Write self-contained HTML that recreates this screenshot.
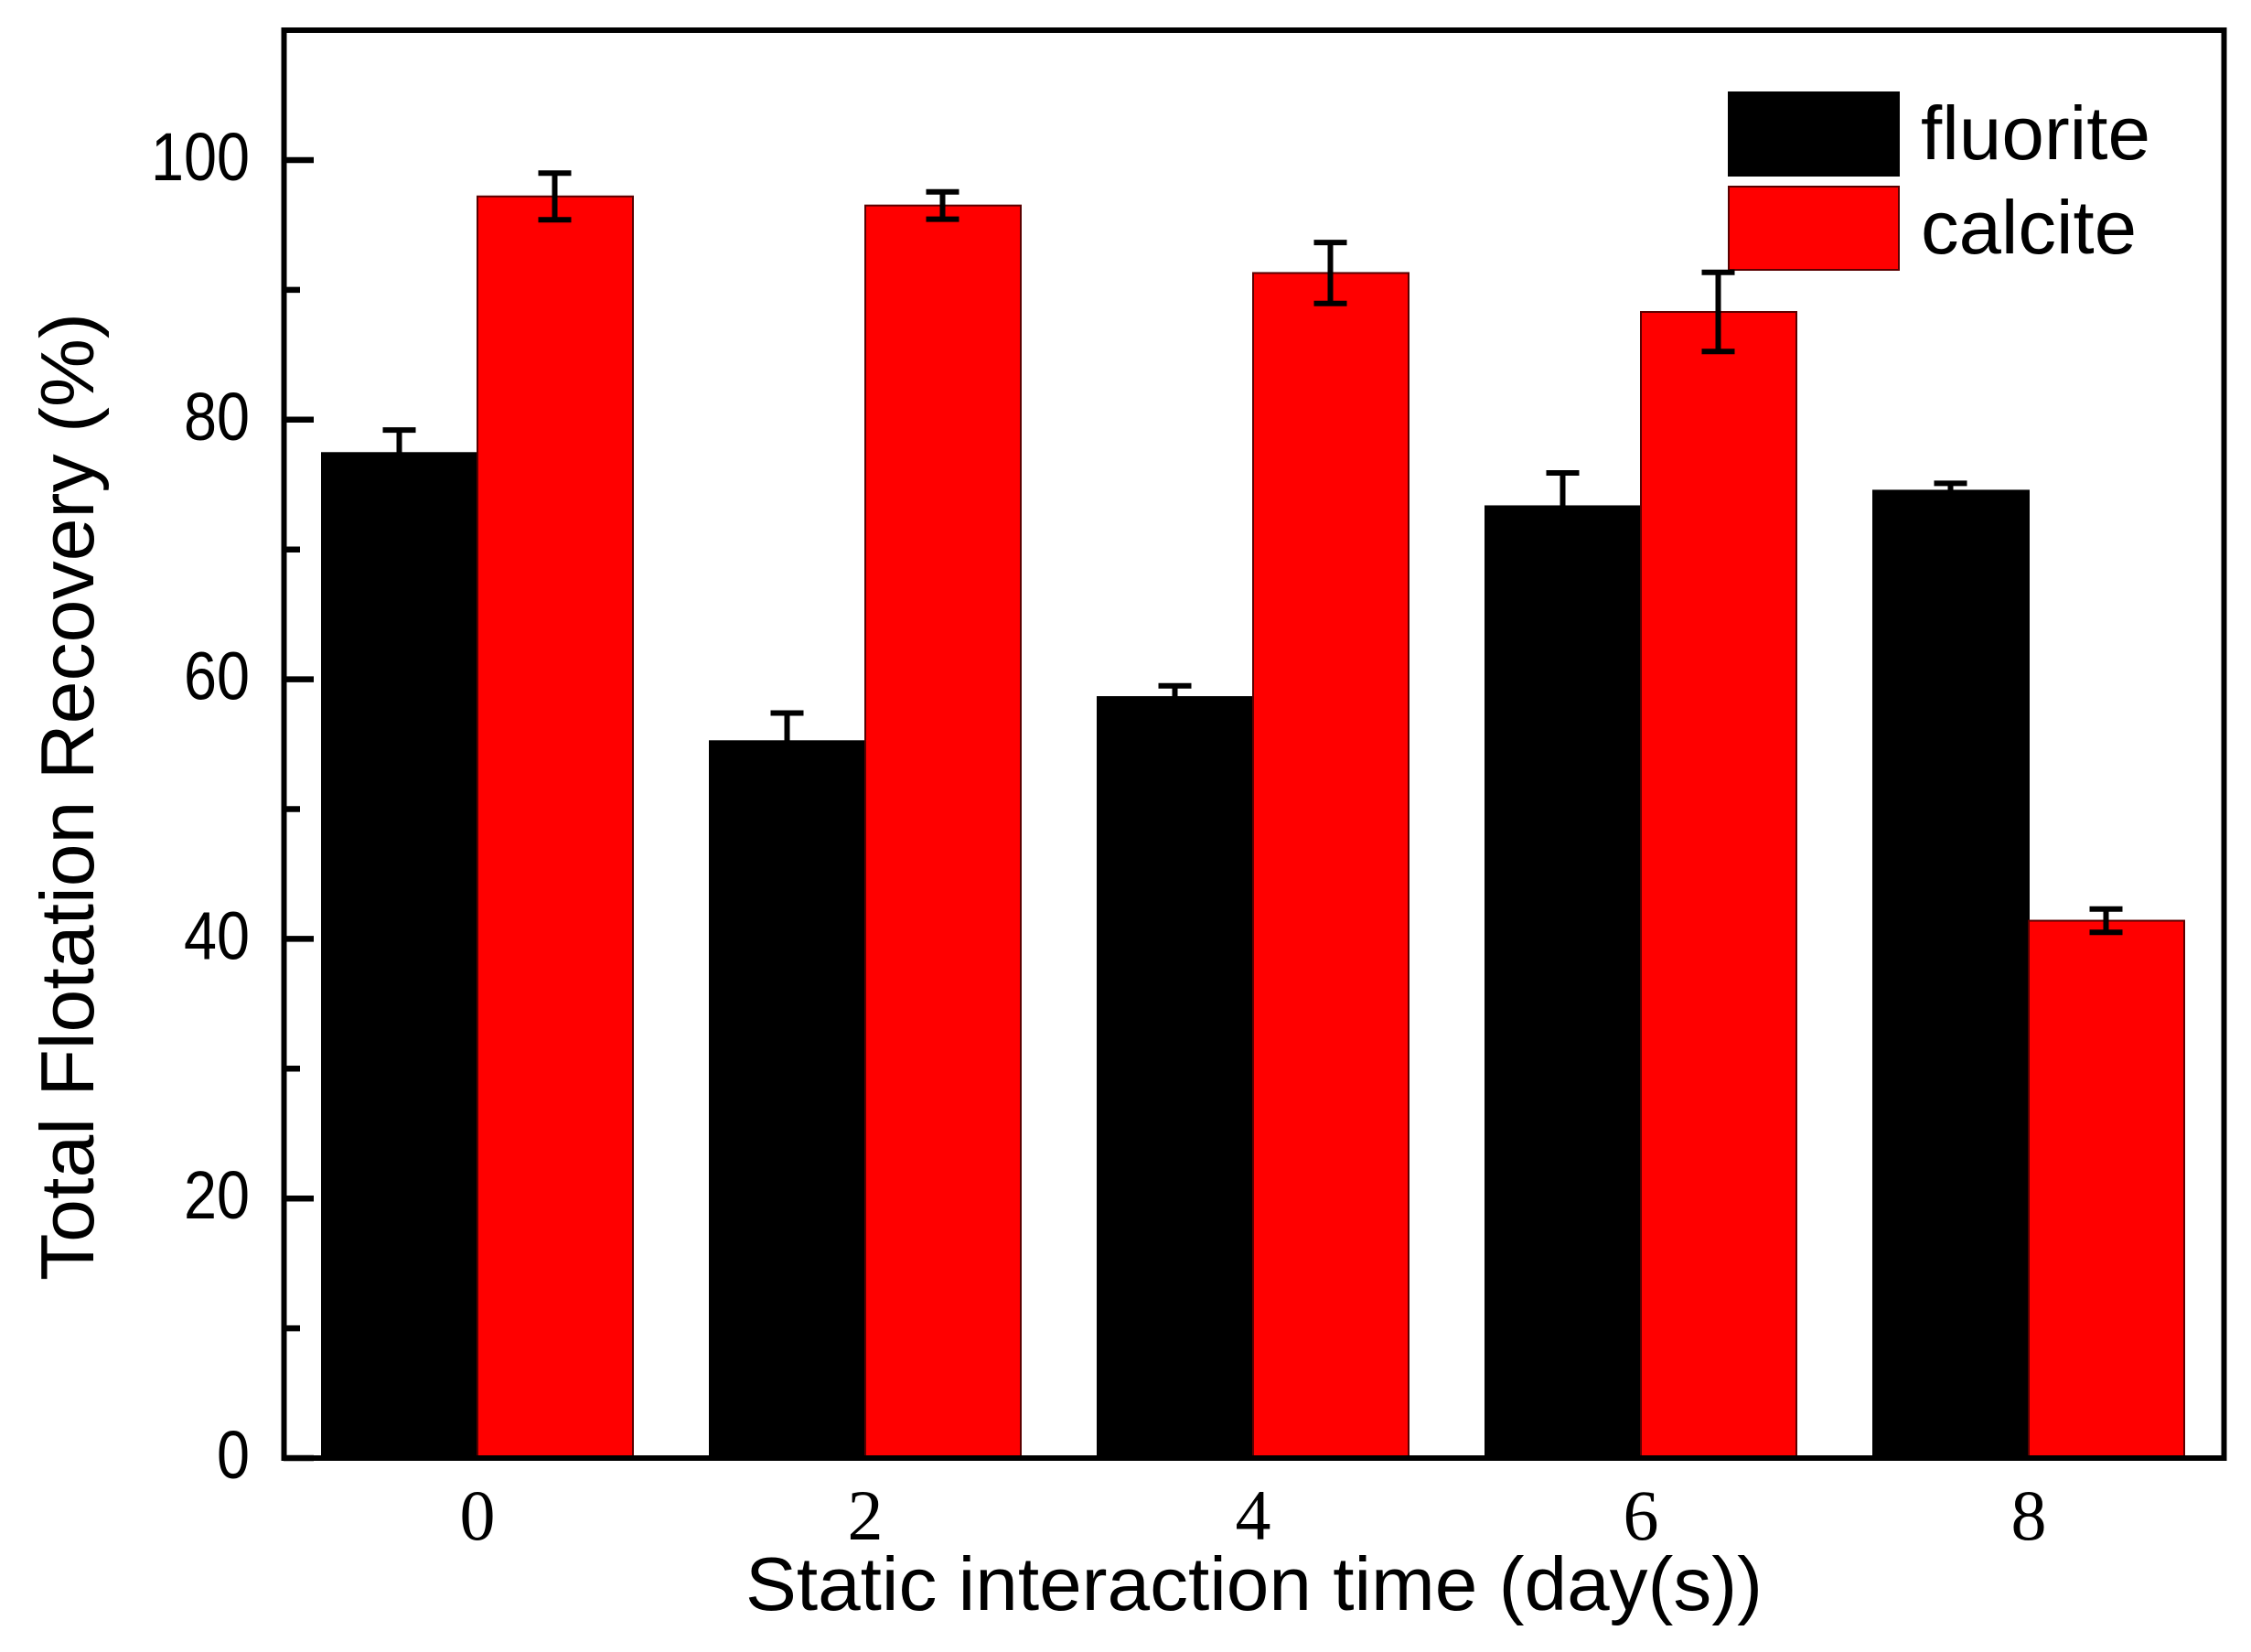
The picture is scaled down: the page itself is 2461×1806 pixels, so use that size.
<!DOCTYPE html>
<html lang="en">
<head>
<meta charset="utf-8">
<title>Total Flotation Recovery vs Static Interaction Time</title>
<style>
  html, body { margin: 0; padding: 0; background: #fff; }
  svg { display: block; }
  text { fill: #000; font-family: "Liberation Sans", sans-serif; }
  .x-tick-label { font-family: "Liberation Serif", serif; font-size: 78px; }
  .y-tick-label { font-size: 74px; }
  .axis-title, .legend-label { font-size: 83px; }
</style>
</head>
<body>
<svg id="chart" xmlns="http://www.w3.org/2000/svg" width="2461" height="1806" viewBox="0 0 2461 1806">
  <rect x="0" y="0" width="2461" height="1806" fill="#ffffff"/>
  <g id="bars"></g>
  <g id="y-ticks"></g>
  <g id="x-ticks"></g>
  <rect x="310.5" y="33" width="2121" height="1561" fill="none" stroke="#000" stroke-width="6"/>
  <g>
    <rect x="1889" y="100" width="188" height="93" fill="#000"/>
    <text class="legend-label" x="2100" y="174" textLength="251" lengthAdjust="spacingAndGlyphs">fluorite</text>
    <rect x="1890" y="204" width="186" height="91" fill="#ff0000" stroke="#5a0000" stroke-width="2"/>
    <text class="legend-label" x="2100" y="277" textLength="236" lengthAdjust="spacingAndGlyphs">calcite</text>
  </g>
  <g id="errors"></g>
  <text class="axis-title" x="815" y="1760" textLength="1112" lengthAdjust="spacingAndGlyphs">Static interaction time (day(s))</text>
  <text class="axis-title" transform="translate(102 1400) rotate(-90)" x="0" y="0" textLength="1058" lengthAdjust="spacingAndGlyphs">Total Flotation Recovery (%)</text>
</svg>
<script>
const days = [0, 2, 4, 6, 8];
const fluorite = [77.5, 55.3, 58.7, 73.4, 74.6];
const calcite = [97.2, 96.5, 91.3, 88.3, 41.4];
const fluoriteErr = [1.7, 2.1, 0.8, 2.5, 0.5];
const calciteErr = [1.8, 1.05, 2.35, 3.05, 0.9];
const yMajorTicks = [0, 20, 40, 60, 80, 100];
const yMinorTicks = [10, 30, 50, 70, 90];

const NS = 'http://www.w3.org/2000/svg';
const yScale = v => 1594 - v * 14.19;
const xScale = d => 522 + 212 * d;
const BAR_W = 171;

function make(tag, attrs) {
  const el = document.createElementNS(NS, tag);
  for (const k in attrs) el.setAttribute(k, attrs[k]);
  return el;
}

const barsG = document.getElementById('bars');
const errG = document.getElementById('errors');
const yG = document.getElementById('y-ticks');
const xG = document.getElementById('x-ticks');

function drawError(group, cx, value, err) {
  const hi = yScale(value + err);
  const lo = yScale(value - err);
  const path = make('path', {
    d: `M${cx - 18} ${hi}H${cx + 18}M${cx} ${hi}V${lo}M${cx - 18} ${lo}H${cx + 18}`,
    fill: 'none', stroke: '#000', 'stroke-width': 6
  });
  group.appendChild(path);
  return path;
}

days.forEach((d, i) => {
  const c = xScale(d);

  const fb = make('rect', { x: c - BAR_W, y: yScale(fluorite[i]), width: BAR_W + 1, height: yScale(0) - yScale(fluorite[i]), fill: '#000' });
  
  
  barsG.appendChild(fb);

  const cb = make('rect', { x: c, y: yScale(calcite[i]), width: BAR_W - 1, height: yScale(0) - yScale(calcite[i]), fill: '#ff0000', stroke: '#5a0000', 'stroke-width': 2 });
  
  
  barsG.appendChild(cb);

  const fe = drawError(errG, c - BAR_W / 2, fluorite[i], fluoriteErr[i]);
  
  

  const ce = drawError(errG, c + BAR_W / 2 - 1, calcite[i], calciteErr[i]);
  
  

  const lbl = make('text', { class: 'x-tick-label', x: c, y: 1683, 'text-anchor': 'middle' });
  lbl.textContent = String(d);
  
  
  xG.appendChild(lbl);
});

yMajorTicks.forEach(v => {
  const y = yScale(v);
  const t = make('line', { x1: 310, x2: 343, y1: y, y2: y, stroke: '#000', 'stroke-width': 6.5 });
  
  
  yG.appendChild(t);

  const s = String(v);
  const lbl = make('text', { class: 'y-tick-label', x: 273, y: y + 22, 'text-anchor': 'end', textLength: s.length * 36, lengthAdjust: 'spacingAndGlyphs' });
  lbl.textContent = s;
  
  
  yG.appendChild(lbl);
});

yMinorTicks.forEach(v => {
  const y = yScale(v);
  const t = make('line', { x1: 310, x2: 328, y1: y, y2: y, stroke: '#000', 'stroke-width': 6.5 });
  
  
  yG.appendChild(t);
});
</script>
</body>
</html>
